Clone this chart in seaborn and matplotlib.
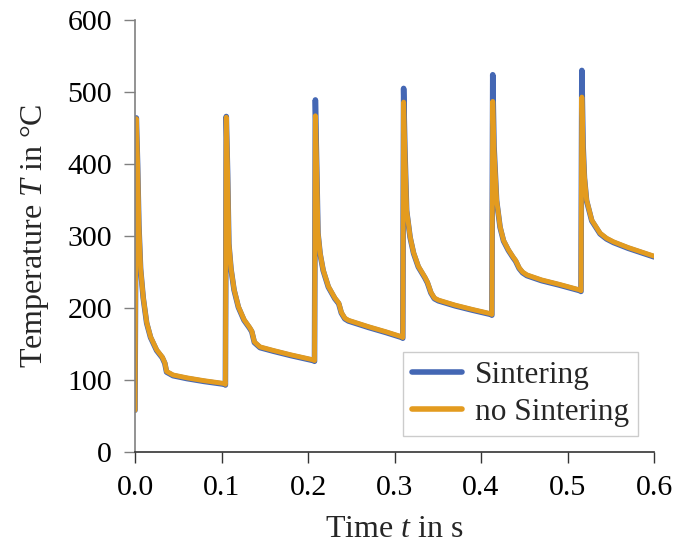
import matplotlib
matplotlib.use("Agg")
import matplotlib.pyplot as plt
import pandas as pd
import seaborn as sns

# time grid shared by both series (s), one row per heating cycle
time_s = [
    0.000, 0.0015, 0.003, 0.0045, 0.0065, 0.0095, 0.0135, 0.018, 0.025, 0.0315, 0.0345, 0.0365, 0.044, 0.060, 0.080, 0.104,
    0.1045, 0.1055, 0.107, 0.1085, 0.111, 0.1145, 0.1195, 0.126, 0.1325, 0.135, 0.138, 0.1445, 0.160, 0.180, 0.206,
    0.2075, 0.2085, 0.210, 0.2115, 0.214, 0.2175, 0.2235, 0.231, 0.2355, 0.2385, 0.2425, 0.2466, 0.270, 0.290, 0.3085,
    0.3095, 0.3105, 0.312, 0.314, 0.318, 0.322, 0.3275, 0.335, 0.338, 0.342, 0.346, 0.3507, 0.370, 0.390, 0.4115,
    0.4125, 0.4135, 0.415, 0.418, 0.422, 0.426, 0.4316, 0.437, 0.440, 0.444, 0.448, 0.453, 0.470, 0.490, 0.5145,
    0.5155, 0.5165, 0.518, 0.5195, 0.522, 0.528, 0.5376, 0.545, 0.553, 0.570, 0.585, 0.600,
]

temp_sintering = [
    58, 464, 400, 315, 254, 214, 179, 159, 141, 131, 123, 111, 106, 102, 98, 94,
    93, 466, 390, 289, 254, 225, 201, 183, 172, 167, 152, 145, 140, 134, 127,
    126, 489, 400, 304, 275, 252, 229, 213, 206, 193, 185, 182, 173, 166, 159,
    158, 505, 420, 335, 298, 276, 257, 242, 235, 221, 213, 210, 203, 197, 191,
    190, 524, 425, 349, 312, 293, 280, 270, 265, 255, 249, 245, 238, 232, 224,
    223, 530, 425, 381, 349, 321, 303, 296, 291, 283, 277, 271,
]

temp_no_sintering = [
    58, 463, 400, 315, 255, 215, 180, 160, 142, 132, 124, 112, 107, 103, 99, 95,
    94, 465, 390, 290, 255, 226, 202, 184, 173, 168, 153, 146, 141, 135, 128,
    127, 467, 395, 305, 276, 253, 230, 214, 207, 194, 186, 183, 174, 167, 160,
    159, 486, 415, 336, 299, 277, 258, 243, 236, 222, 214, 211, 204, 198, 192,
    191, 487, 420, 350, 313, 294, 281, 271, 266, 256, 250, 246, 239, 233, 225,
    224, 493, 420, 382, 350, 322, 304, 297, 292, 284, 278, 272,
]

SERIES_COLORS = {"Sintering": "#4467b4", "no Sintering": "#e39b1f"}

sns.set_theme(style="white")
plt.rcParams["font.family"] = ["Liberation Serif", "DejaVu Serif"]
plt.rcParams["mathtext.fontset"] = "custom"
plt.rcParams["mathtext.rm"] = "Liberation Serif"
plt.rcParams["mathtext.it"] = "Liberation Serif:italic"

df = pd.concat([
    pd.DataFrame({"t": time_s, "T": temp_sintering, "series": "Sintering"}),
    pd.DataFrame({"t": time_s, "T": temp_no_sintering, "series": "no Sintering"}),
])

fig, ax = plt.subplots(figsize=(6.75, 5.47), dpi=100)
fig.subplots_adjust(left=0.2, right=0.969, top=0.9634, bottom=0.1737)

for name, lw in [("Sintering", 4.0), ("no Sintering", 3.5)]:
    sub = df[df["series"] == name]
    sns.lineplot(data=sub, x="t", y="T", ax=ax, sort=False, estimator=None,
                 color=SERIES_COLORS[name], linewidth=lw, label=name)

ax.set_xlim(0, 0.6)
ax.set_ylim(0, 600)
ax.set_xticks([0.0, 0.1, 0.2, 0.3, 0.4, 0.5, 0.6])
ax.set_xticklabels(["0.0", "0.1", "0.2", "0.3", "0.4", "0.5", "0.6"])
ax.set_yticks(range(0, 601, 100))

for side in ["top", "right"]:
    ax.spines[side].set_visible(False)
ax.spines["left"].set_color("#808080")
ax.spines["bottom"].set_color("#333333")
for side in ["left", "bottom"]:
    ax.spines[side].set_linewidth(1.2)
ax.tick_params(axis="both", direction="out", length=8, width=1.0,
               labelsize=21.5, labelcolor="black", pad=8.5, bottom=True, left=True)
ax.tick_params(axis="y", color="#808080")
ax.tick_params(axis="x", color="#333333")

ax.set_xlabel("Time $t$ in s", fontsize=23, labelpad=10)
ax.set_ylabel("Temperature $T$ in °C", fontsize=23, labelpad=12)

leg = ax.legend(loc="lower right", fontsize=22.5, frameon=True, fancybox=False,
                edgecolor="#cccccc", framealpha=1, handlelength=1.6,
                borderaxespad=0.5, handletextpad=0.4, borderpad=0.3,
                labelspacing=0.25)
for line in leg.get_lines():
    line.set_linewidth(4.0)

fig.savefig("out.png", dpi=100)
